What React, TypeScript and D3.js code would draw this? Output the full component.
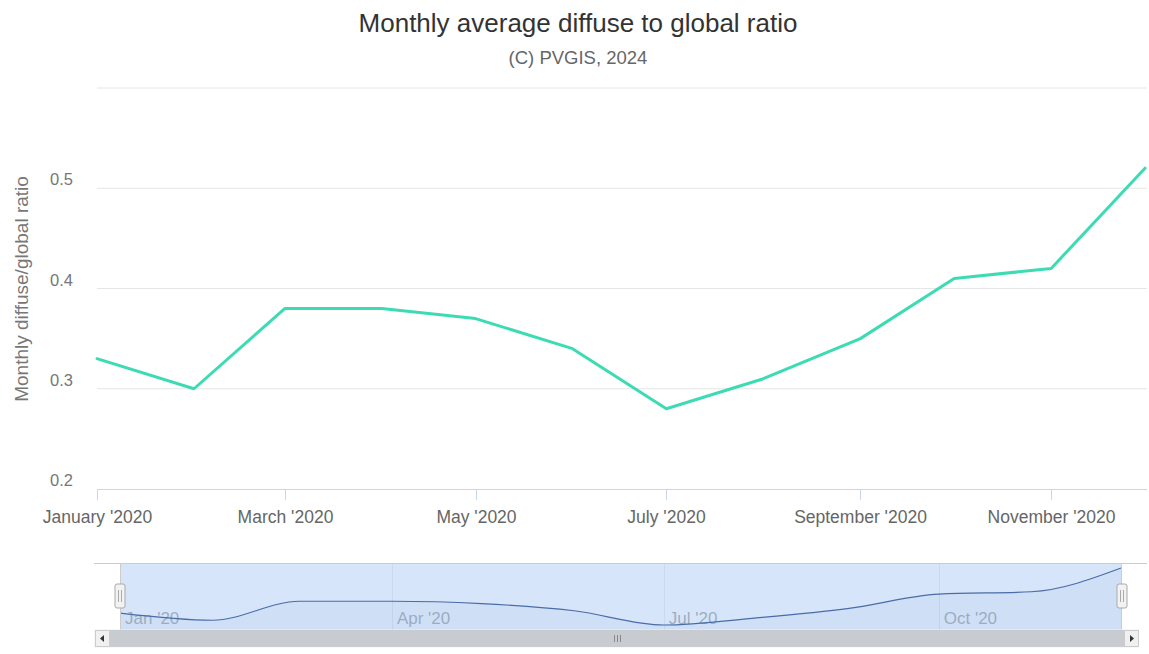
import React from "react";
import * as d3 from "d3";

const months: string[] = ["2020-01-01","2020-02-01","2020-03-01","2020-04-01","2020-05-01","2020-06-01","2020-07-01","2020-08-01","2020-09-01","2020-10-01","2020-11-01","2020-12-01"];
const ratio: number[] = [0.33, 0.30, 0.38, 0.38, 0.37, 0.34, 0.28, 0.31, 0.35, 0.41, 0.42, 0.52];
const yTicks: number[] = [0.2, 0.3, 0.4, 0.5, 0.6];
const yTickLabels: string[] = ["0.2", "0.3", "0.4", "0.5", ""];
const xTickMonths: string[] = ["2020-01-01","2020-03-01","2020-05-01","2020-07-01","2020-09-01","2020-11-01"];
const navTickMonths: string[] = ["2020-01-01","2020-04-01","2020-07-01","2020-10-01"];
const titleText = "Monthly average diffuse to global ratio";
const subtitleText = "(C) PVGIS, 2024";
const yAxisTitle = "Monthly diffuse/global ratio";

const W = 1149, H = 654;
const FONT = "'Liberation Sans', Arial, Helvetica, sans-serif";

export default function App() {
  const dates = months.map((m) => new Date(m + "T00:00:00Z"));
  const data = dates.map((d, i) => ({ d, v: ratio[i] }));

  const x = d3.scaleUtc().domain([dates[0], dates[dates.length - 1]]).range([97, 1145]);
  const y = d3.scaleLinear().domain([0.2, 0.6]).range([489, 88]);

  const line = d3.line<{ d: Date; v: number }>().x((p) => x(p.d)).y((p) => y(p.v));

  // navigator
  const navTop = 563, navBottom = 630;
  const nx = d3.scaleUtc().domain([dates[0], dates[dates.length - 1]]).range([120, 1121]);
  const ny = d3.scaleLinear().domain(d3.extent(ratio) as [number, number]).range([625, 568]);
  const navLine = d3.line<{ d: Date; v: number }>().x((p) => nx(p.d)).y((p) => ny(p.v)).curve(d3.curveMonotoneX);
  const navArea = d3.area<{ d: Date; v: number }>().x((p) => nx(p.d)).y0(navBottom).y1((p) => ny(p.v)).curve(d3.curveMonotoneX);

  const fmtMain = d3.utcFormat("%B '%Y");
  const fmtNav = d3.utcFormat("%b '%y");

  const sbTop = 630, sbH = 17;

  const handle = (cx: number) => (
    <g key={cx}>
      <rect x={cx - 5} y={584} width={10} height={24} rx={2} fill="#f2f2f2" stroke="#aaa" strokeWidth={1} />
      <line x1={cx - 1.5} x2={cx - 1.5} y1={590} y2={602} stroke="#aaa" strokeWidth={1} />
      <line x1={cx + 1.5} x2={cx + 1.5} y1={590} y2={602} stroke="#aaa" strokeWidth={1} />
    </g>
  );

  return (
    <svg width={W} height={H} style={{ position: "absolute", left: 0, top: 0, background: "#fff" }} fontFamily={FONT}>
      <rect x={0} y={0} width={W} height={H} fill="#fff" />
      {/* titles */}
      <text x={578} y={32} textAnchor="middle" fontSize={26} fill="#333">{titleText}</text>
      <text x={578} y={64} textAnchor="middle" fontSize={18.5} fill="#666">{subtitleText}</text>

      {/* grid */}
      {yTicks.map((t, i) => (
        <g key={t}>
          {i > 0 && <line x1={97} x2={1147} y1={y(t)} y2={y(t)} stroke="#e6e6e6" strokeWidth={1} />}
          <text x={73} y={y(t) - 3} textAnchor="end" fontSize={16.5} fill="#777">{yTickLabels[i]}</text>
        </g>
      ))}

      {/* x axis */}
      <line x1={97} x2={1147} y1={489.5} y2={489.5} stroke="#ccd6eb" strokeWidth={1} />
      {xTickMonths.map((m) => {
        const d = new Date(m + "T00:00:00Z");
        const px = Math.round(x(d)) + 0.5;
        return (
          <g key={m}>
            <line x1={px} x2={px} y1={489} y2={500} stroke="#ccd6eb" strokeWidth={1} />
            <text x={px} y={523} textAnchor="middle" fontSize={17.5} fill="#666">{fmtMain(d)}</text>
          </g>
        );
      })}

      {/* y title */}
      <text transform={`translate(28,289) rotate(-90)`} textAnchor="middle" fontSize={19} fill="#777">{yAxisTitle}</text>

      {/* series */}
      <path d={line(data) || ""} fill="none" stroke="#3ddbb3" strokeWidth={3} strokeLinejoin="round" strokeLinecap="round" />

      {/* navigator */}
      {navTickMonths.slice(1).map((m) => {
        const px = Math.round(nx(new Date(m + "T00:00:00Z"))) + 0.5;
        return <line key={m} x1={px} x2={px} y1={navTop} y2={navBottom} stroke="#eeeeee" strokeWidth={1} />;
      })}
      <path d={navArea(data) || ""} fill="#335cad" fillOpacity={0.05} stroke="none" />
      {navTickMonths.map((m) => {
        const d = new Date(m + "T00:00:00Z");
        const px = nx(d);
        return (
          <text key={m} x={px + 5} y={624} fontSize={17} fill="#999" fillOpacity={0.8}>{fmtNav(d)}</text>
        );
      })}
      <rect x={120} y={navTop} width={1001} height={navBottom - navTop} fill="rgba(120,170,235,0.3)" />
      <path d={navLine(data) || ""} fill="none" stroke="#4a6ca8" strokeWidth={1.2} />
      <path d={`M94,${navTop + 0.5} H120.5 V${navBottom} M1121.5,${navBottom} V${navTop + 0.5} H1147`} fill="none" stroke="#cccccc" strokeWidth={1} />
      <line x1={120.5} x2={1121.5} y1={navTop + 0.5} y2={navTop + 0.5} stroke="#cccccc" strokeWidth={1} />
      {handle(120)}
      {handle(1122)}

      {/* scrollbar */}
      <rect x={95} y={sbTop} width={1043} height={sbH} fill="#f2f2f2" stroke="#f2f2f2" />
      <rect x={110} y={sbTop} width={1014} height={sbH} fill="#c8cbcf" />
      {[-3, 0, 3].map((o) => (
        <line key={o} x1={617 + o + 0.5} x2={617 + o + 0.5} y1={sbTop + 5} y2={sbTop + 12} stroke="#888" strokeWidth={1} />
      ))}
      <rect x={95.5} y={sbTop + 0.5} width={14} height={sbH - 1} fill="#f0f0f0" stroke="#cccccc" strokeWidth={1} />
      <path d={`M104,${sbTop + 5} L100,${sbTop + 8.5} L104,${sbTop + 12} Z`} fill="#333" />
      <rect x={1124.5} y={sbTop + 0.5} width={14} height={sbH - 1} fill="#f0f0f0" stroke="#cccccc" strokeWidth={1} />
      <path d={`M1130,${sbTop + 5} L1134,${sbTop + 8.5} L1130,${sbTop + 12} Z`} fill="#333" />
    </svg>
  );
}
